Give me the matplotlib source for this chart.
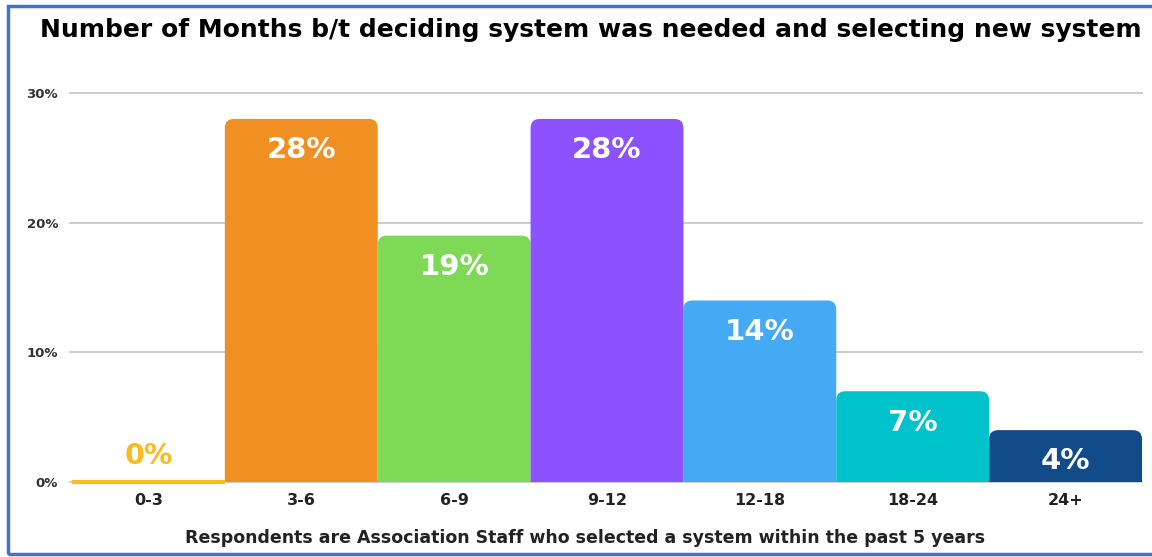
import matplotlib.pyplot as plt
from matplotlib.patches import FancyBboxPatch, Rectangle

categories = ["0-3", "3-6", "6-9", "9-12", "12-18", "18-24", "24+"]
values = [0, 28, 19, 28, 14, 7, 4]
labels = ["0%", "28%", "19%", "28%", "14%", "7%", "4%"]
colors = ["#F9BC1C", "#F08F22", "#7ED957", "#8C52FF", "#45A9F4", "#00C2CB", "#114B89"]
yticks = [0, 10, 20, 30]

plt.rcParams["font.family"] = ["DejaVu Sans"]

fig = plt.figure(figsize=(11.52, 5.57), dpi=100)
ax = fig.add_axes([72 / 1152, 1 - 482 / 557, (1142 - 72) / 1152, (482 - 93) / 557])
ax.set_xlim(-0.5, len(categories) - 0.5)
ax.set_ylim(0, 30)

# horizontal grid
for t in yticks:
    ax.axhline(t, color="#c8c8c8", lw=1.3, zorder=0, xmin=-0.002, clip_on=False)

bars = ax.bar(range(len(categories)), values, width=1.0, color=colors, zorder=2)
fig.canvas.draw()

# swap bars for rounded-top versions (bottom corners hidden below axis)
px_x = 1 / (ax.transData.transform((1, 0))[0] - ax.transData.transform((0, 0))[0])
px_y = 1 / (ax.transData.transform((0, 1))[1] - ax.transData.transform((0, 0))[1])
r = 9 * px_x
for b, v, c in zip(bars, values, colors):
    b.set_visible(False)
    if v == 0:
        ax.plot([b.get_x(), b.get_x() + b.get_width()], [0, 0], color=c, lw=3,
                zorder=3, solid_capstyle="butt", clip_on=False)
        continue
    p = FancyBboxPatch((b.get_x(), -2), b.get_width(), v + 2,
                       boxstyle=f"round,pad=0,rounding_size={r}",
                       mutation_aspect=px_y / px_x,
                       facecolor=c, edgecolor="none", zorder=2)
    ax.add_patch(p)

for i, (v, lab) in enumerate(zip(values, labels)):
    if v == 0:
        ax.annotate(lab, (i, v), xytext=(0, 9), textcoords="offset points",
                    ha="center", va="bottom", color=colors[0],
                    fontsize=20.5, fontweight="bold")
    else:
        ax.annotate(lab, (i, v), xytext=(0, -12.5), textcoords="offset points",
                    ha="center", va="top", color="white",
                    fontsize=21, fontweight="bold")

ax.set_xticks(range(len(categories)))
ax.set_xticklabels(categories, fontsize=11.5, fontweight="bold", color="#222222")
ax.set_yticks(yticks)
ax.set_yticklabels([f"{t}%" for t in yticks], fontsize=9.5, fontweight="bold", color="#333333")
ax.tick_params(length=0, pad=8)
ax.tick_params(axis="y", pad=10)
for s in ax.spines.values():
    s.set_visible(False)

fig.text(591 / 1152, 1 - 30 / 557, "Number of Months b/t deciding system was needed and selecting new system",
         ha="center", va="center", fontsize=18, fontweight="bold", color="black")
fig.text(585 / 1152, 1 - 538 / 557, "Respondents are Association Staff who selected a system within the past 5 years",
         ha="center", va="center", fontsize=12.5, fontweight="bold", color="#222222")

fig.patches.append(Rectangle((8 / 1152, 3 / 557), 1.2, 1 - 9 / 557, transform=fig.transFigure,
                             fill=False, edgecolor="#4472C4", lw=2.5))

fig.savefig("out.png", dpi=100)
